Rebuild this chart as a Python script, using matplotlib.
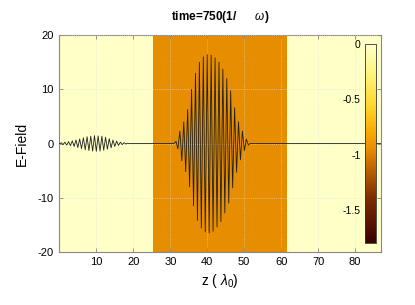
import matplotlib
matplotlib.use("Agg")
import matplotlib.pyplot as plt
import numpy as np
from matplotlib.colors import LinearSegmentedColormap

plt.rcParams['font.family'] = ['Liberation Sans Narrow', 'Liberation Sans', 'DejaVu Sans']
plt.rcParams['axes.unicode_minus'] = False
plt.rcParams['mathtext.fontset'] = 'custom'
plt.rcParams['mathtext.it'] = 'Liberation Sans:italic'
plt.rcParams['mathtext.rm'] = 'Liberation Sans'

# Background density regions (z edges, colour value)
region_edges = [0, 25.3, 61.5, 87]
region_values = [0.0, -0.95, 0.0]

# Field trace: small pulse extrema
small_z = [0.5, 1.0, 1.5, 2.0, 2.5, 3.0, 3.5, 4.0, 4.5, 5.0, 5.5, 6.0, 6.5, 7.0,
           7.5, 8.0, 8.5, 9.0, 9.5, 10.0, 10.5, 11.0, 11.5, 12.0, 12.5, 13.0,
           13.5, 14.0, 14.5, 15.0, 15.5, 16.0, 16.5, 17.0, 17.5, 18.0, 18.5]
small_e = [0.15, -0.2, 0.25, -0.3, 0.35, -0.4, 0.5, -0.55, 0.65, -0.75, 0.85,
           -0.95, 1.05, -1.15, 1.25, -1.3, 1.35, -1.4, 1.45, -1.45, 1.4, -1.4,
           1.35, -1.25, 1.15, -1.05, 0.9, -0.8, 0.65, -0.55, 0.45, -0.35, 0.25,
           -0.2, 0.15, -0.1, 0.05]
# big pulse extrema
big_z = [31.54, 32.07, 32.60, 33.13, 33.66, 34.18, 34.71, 35.24, 35.77, 36.30,
         36.83, 37.36, 37.88, 38.41, 38.94, 39.47, 40.00, 40.53, 41.06, 41.59,
         42.12, 42.65, 43.18, 43.70, 44.23, 44.76, 45.29, 45.82, 46.35, 46.88,
         47.41, 47.94, 48.46, 48.99, 49.52, 50.05, 50.58, 51.11]
big_e = [0.4, -1.0, 2.3, -3.2, 4.0, -5.2, 6.3, -8.0, 10.0, -11.5, 13.0, -14.2,
         15.0, -15.6, 16.0, -16.3, 16.4, -16.5, 16.3, -16.2, 15.8, -15.4, 15.0,
         -14.4, 13.7, -12.8, 12.0, -11.0, 9.7, -8.2, 6.6, -5.3, 4.0, -3.0, 2.3,
         -1.3, 0.8, -0.3]

z_all = [0.0, 0.3] + small_z + [19.0, 31.0] + big_z + [51.6, 87.0]
e_all = [0.0, 0.0] + small_e + [0.0, 0.0] + big_e + [0.0, 0.0]

xticks = [10, 20, 30, 40, 50, 60, 70, 80]
yticks = [-20, -10, 0, 10, 20]
cbar_ticks = [0, -0.5, -1, -1.5]

cmap = LinearSegmentedColormap.from_list('dens', [
    (0.0, '#3c0000'),
    (0.22, '#7a2c00'),
    (0.40, '#c86e00'),
    (0.472, '#e88e00'),
    (0.56, '#f8aa00'),
    (0.70, '#ffd930'),
    (0.85, '#fff27a'),
    (1.0, '#ffffc8'),
])

fig = plt.figure(figsize=(4.15, 3.05), dpi=100)
ax = fig.add_axes([0.143, 0.174, 0.775, 0.711])

mesh = ax.pcolormesh(region_edges, [-20, 20], np.array([region_values]),
                     cmap=cmap, vmin=-1.8, vmax=0, shading='flat', zorder=0)
ax.plot(z_all, e_all, color='#202020', lw=0.6, zorder=3)

ax.set_xlim(0, 87)
ax.set_ylim(-20, 20)
ax.set_xticks(xticks)
ax.set_yticks(yticks)
ax.grid(True, color='#e0e0e0', ls=(0, (1, 2)), lw=0.5, zorder=1)
ax.set_axisbelow(False)
for s in ax.spines.values():
    s.set_color('#888888')
    s.set_linewidth(0.8)
ax.tick_params(direction='in', length=3, width=0.6, color='#888888',
               top=True, right=True, labelsize=8, pad=4)

ax.set_title('time=750(1/      $\\omega$)', fontsize=8.5, fontweight='bold', pad=11)
ax.set_ylabel('E-Field', fontsize=10, labelpad=6)
ax.set_xlabel('z ( $\\lambda_0$)', fontsize=10, labelpad=3)

cax = fig.add_axes([0.8795, 0.2033, 0.0265, 0.6525])
cb = fig.colorbar(mesh, cax=cax, ticks=cbar_ticks)
cb.ax.yaxis.set_ticks_position('left')
cb.ax.yaxis.set_label_position('left')
cb.ax.tick_params(length=0, labelsize=7.5, pad=3)
cb.ax.set_yticklabels(['0', '-0.5', '-1', '-1.5'])
cb.outline.set_edgecolor('#333333')
cb.outline.set_linewidth(0.6)

fig.savefig('out.png', dpi=100)
